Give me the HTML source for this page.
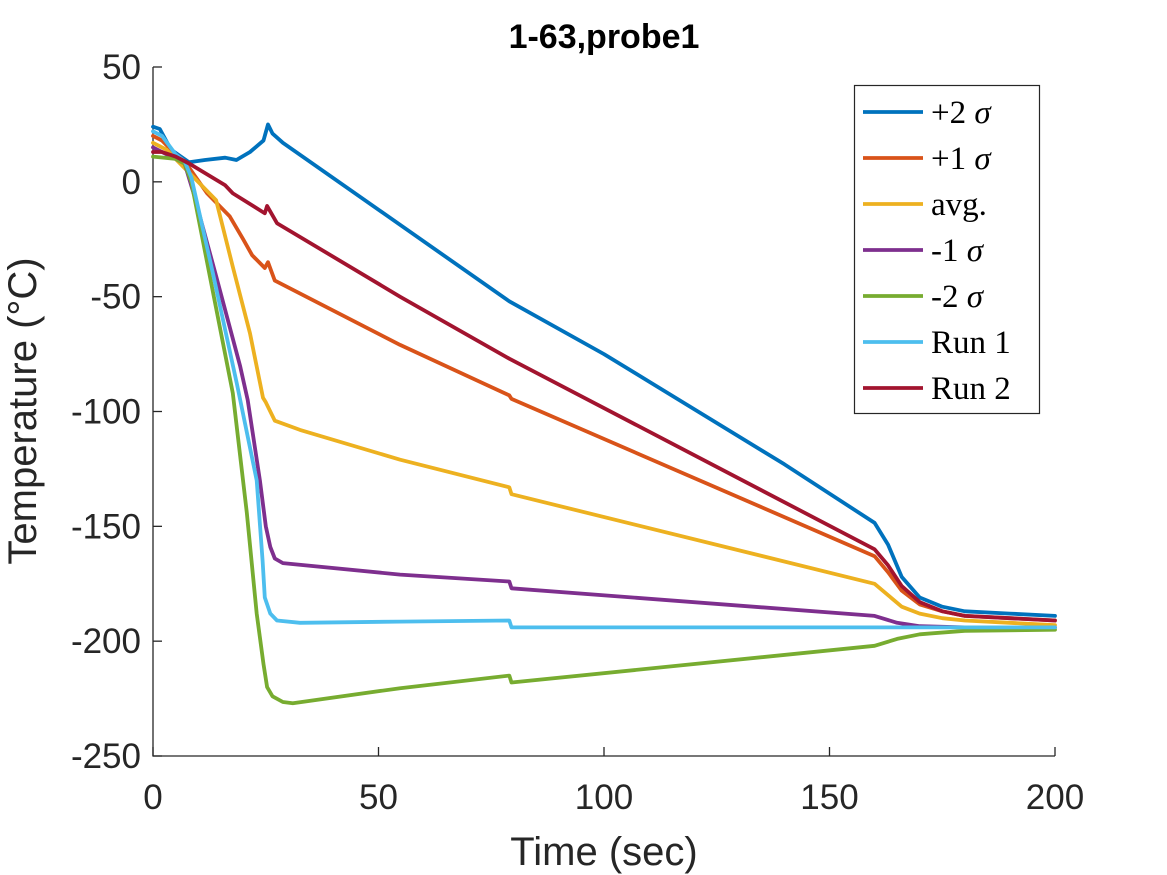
<!DOCTYPE html>
<html><head><meta charset="utf-8"><style>
body{margin:0;background:#fff}
svg{display:block}
.tick{font-family:"Liberation Sans",sans-serif;font-size:35px;fill:#262626}
.leg{font-family:"Liberation Serif",serif;font-size:33px;fill:#000}
</style></head><body>
<svg id="chart" width="1167" height="875" xmlns="http://www.w3.org/2000/svg">
<rect width="1167" height="875" fill="#fff"/>
<text x="604" y="48" text-anchor="middle" font-family="Liberation Sans, sans-serif" font-weight="bold" font-size="34" fill="#000">1-63,probe1</text>
<text x="604" y="865" text-anchor="middle" font-family="Liberation Sans, sans-serif" font-size="40" fill="#262626">Time (sec)</text>
<text transform="translate(36,411) rotate(-90)" text-anchor="middle" font-family="Liberation Sans, sans-serif" font-size="40" fill="#262626">Temperature (°C)</text>
<g id="axes"></g>
<g id="series"></g>
<g id="legend"></g>
</svg>
<script>
const xTicks=[0,50,100,150,200];
const yTicks=[50,0,-50,-100,-150,-200,-250];
const seriesNames=["+2 σ","+1 σ","avg.","-1 σ","-2 σ","Run 1","Run 2"];
const seriesColors=["#0072bd","#d95319","#edb120","#7e2f8e","#77ac30","#4dbeee","#a2142f"];
const tBlue=[0,1.5,4,8,11.5,16,18.5,21.5,24.5,25.5,26.5,28.8,79,100,140,160,163,166,170,175,180,190,200];
const vBlue=[24,23,14,8.5,9.5,10.5,9.5,13,18,25,21,17,-52,-75,-123,-148.5,-158,-172,-181,-185,-187,-188,-189];
const tOrange=[0,2,5,7,12,17,20,22,24.8,25.5,27,54.8,79,79.5,160,163,166,170,175,180,190,200];
const vOrange=[20,18,12,9,-5,-15,-25,-32,-37.5,-35,-43,-71,-93,-94.5,-163,-170,-178,-184,-187,-189,-190,-191];
const tAvg=[0,3,6,10,14,17.7,21.5,24.4,25,27,32.6,54.8,79,79.5,160,163,166,170,175,180,190,200];
const vAvg=[17,14,8,0,-8,-37,-66,-94,-96,-104,-108,-121,-133,-136,-175,-180,-185,-188,-190,-191,-192,-193];
const tM1=[0,5,7,9,14,19.3,21,23.7,25,26,27,28.8,54.8,79,79.5,160,165,170,180,200];
const vM1=[15,10,8,-5,-41,-80,-95,-130,-150,-159,-164,-166,-171,-174,-177,-189,-192,-193.5,-194,-194];
const tM2=[0,5,7,8.5,12.6,17.7,20.8,23,24.5,25.3,26.5,28.8,31,54.8,79,79.5,160,165,170,180,200];
const vM2=[11,10,8,0,-41,-92,-144,-188,-210,-220,-224,-226.5,-227,-220.5,-215,-218,-202,-199,-197,-195.5,-195];
const tRun1=[0,2,5,7,8.5,13.3,18.6,23,24.3,24.8,26,27.5,32.6,54.8,79,79.5,200];
const vRun1=[22,20,12,9,2,-40,-88,-130,-165,-181,-188,-191,-192,-191.5,-191,-194,-194];
const tRun2=[0,2,5,8,16,17.7,24.8,25.3,27.5,54.8,79,160,163,166,170,175,180,190,200];
const vRun2=[13,13,11,8,-1.5,-5,-13.7,-10.5,-18,-50,-77,-160,-167,-176,-183,-187,-189,-190,-191];
const allT=[tBlue,tOrange,tAvg,tM1,tM2,tRun1,tRun2];
const allV=[vBlue,vOrange,vAvg,vM1,vM2,vRun1,vRun2];
const seriesKeys=["plus-2-sigma","plus-1-sigma","avg","minus-1-sigma","minus-2-sigma","run-1","run-2"];

const X0=153,X1=1055,Y0=756,Y1=67;
const xs=t=>X0+(t-0)/(200-0)*(X1-X0);
const ys=v=>Y0-(v+250)/(300)*(Y0-Y1);
const NS="http://www.w3.org/2000/svg";
function mk(tag,attrs,parent){const e=document.createElementNS(NS,tag);for(const k in attrs)e.setAttribute(k,attrs[k]);parent.appendChild(e);return e;}
const axes=document.getElementById('axes');
let ax=mk('path',{d:`M${X0},${Y1}V${Y0}H${X1}`,fill:'none',stroke:'#262626','stroke-width':1.3},axes);


xTicks.forEach(t=>{
 const l=mk('line',{x1:xs(t),x2:xs(t),y1:Y0,y2:Y0-9,stroke:'#262626','stroke-width':1.3},axes);
 
 
 const tx=mk('text',{x:xs(t),y:Y0+53,'text-anchor':'middle',class:'tick'},axes);
 tx.textContent=t;
 
 
});
yTicks.forEach(v=>{
 const l=mk('line',{x1:X0,x2:X0+9,y1:ys(v),y2:ys(v),stroke:'#262626','stroke-width':1.3},axes);
 
 
 const tx=mk('text',{x:X0-12,y:ys(v)+12,'text-anchor':'end',class:'tick'},axes);
 tx.textContent=v;
 
 
});
const sg=document.getElementById('series');
allT.forEach((ts,i)=>{
 const vs=allV[i];
 const d=ts.map((t,j)=>(j?'L':'M')+xs(t).toFixed(1)+','+ys(vs[j]).toFixed(1)).join('');
 const p=mk('path',{d:d,fill:'none',stroke:seriesColors[i],'stroke-width':3.8,'stroke-linejoin':'round','stroke-linecap':'round'},sg);
 
 
});
const lg=document.getElementById('legend');
const box=mk('rect',{x:854.5,y:85.5,width:185,height:328,fill:'#fff',stroke:'#262626','stroke-width':1.2},lg);


seriesNames.forEach((n,i)=>{
 const y=112+i*46;
 const g=mk('g',{},lg);
 
 
 mk('line',{x1:863,x2:923,y1:y,y2:y,stroke:seriesColors[i],'stroke-width':3.8},g);
 const tx=mk('text',{x:931,y:y+11,class:'leg'},g);
 if(n.indexOf('σ')>=0){
  tx.appendChild(document.createTextNode(n.replace(' σ','')+' '));
  const s=mk('tspan',{'font-style':'italic'},tx);s.textContent='σ';
 } else tx.textContent=n;
});
</script>
</body></html>
